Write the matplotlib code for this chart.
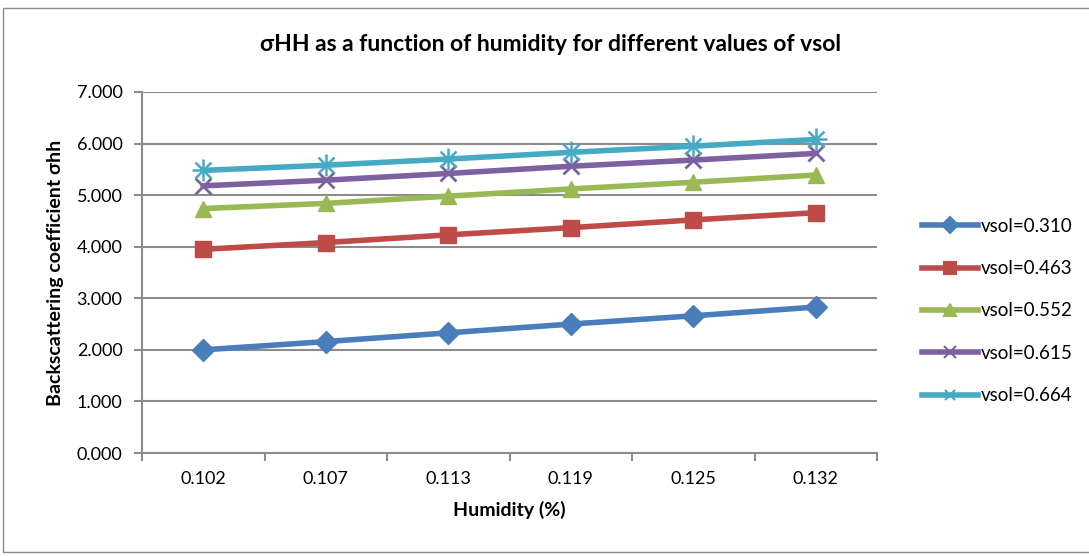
import matplotlib
matplotlib.use("Agg")
import matplotlib.pyplot as plt
from matplotlib.lines import Line2D
from matplotlib.patches import Rectangle

plt.rcParams['font.family'] = ['Lato', 'DejaVu Sans']

humidity = ["0.102", "0.107", "0.113", "0.119", "0.125", "0.132"]
s_310 = [2.00, 2.16, 2.33, 2.50, 2.66, 2.83]
s_463 = [3.95, 4.08, 4.23, 4.37, 4.52, 4.66]
s_552 = [4.74, 4.84, 4.98, 5.12, 5.25, 5.39]
s_615 = [5.18, 5.29, 5.42, 5.56, 5.68, 5.81]
s_664 = [5.48, 5.58, 5.70, 5.83, 5.95, 6.08]
labels = ["vsol=0.310", "vsol=0.463", "vsol=0.552", "vsol=0.615", "vsol=0.664"]
y_ticks = [0, 1, 2, 3, 4, 5, 6, 7]

series = [s_310, s_463, s_552, s_615, s_664]
colors = ["#4A7EBB", "#BE4B48", "#98B954", "#7D60A0", "#46AAC5"]
markers = ["D", "s", "^", "x", "*"]
msizes = [11, 12, 12, 11, 12]

fig = plt.figure(figsize=(10.89, 5.56), dpi=100)
fig.patches.append(Rectangle((3/1089, 4/556), 1.1, 544/556, transform=fig.transFigure,
                             fill=False, edgecolor="#8c8c8c", linewidth=1.0))
ax = fig.add_axes([142/1089, 1 - 453/556, (877-142)/1089, (453-92)/556])

x = list(range(len(humidity)))
for s, c, m, ms in zip(series, colors, markers, msizes):
    if m == "*":
        ax.plot(x, s, color=c, linewidth=4, zorder=3)
        ax.plot(x, s, linestyle="none", marker="x", color=c, markersize=ms, markeredgewidth=1.8, zorder=4)
        ax.plot(x, s, linestyle="none", marker="+", color=c, markersize=ms+4, markeredgewidth=1.8, zorder=4)
    elif m == "x":
        ax.plot(x, s, color=c, linewidth=4, marker=m, markersize=ms, markeredgewidth=2, zorder=3)
    else:
        ax.plot(x, s, color=c, linewidth=4, marker=m, markersize=ms, zorder=3)

ax.set_xlim(-0.5, len(humidity) - 0.5)
ax.set_ylim(0, 7)
ax.set_yticks(y_ticks)
ax.set_yticklabels([f"{v:.3f}" for v in y_ticks], fontsize=13)
ax.set_xticks(x)
ax.set_xticklabels(humidity, fontsize=13)
ax.tick_params(axis='x', length=0, pad=13)
ax.set_xticks([i - 0.5 for i in range(len(humidity) + 1)], minor=True)
ax.tick_params(axis='x', which='minor', length=6, color="#8c8c8c", width=1.5)
ax.tick_params(axis='y', length=6, color="#8c8c8c", width=1.5, pad=8)
ax.grid(axis='y', color="#8c8c8c", linewidth=1.5)
ax.set_axisbelow(True)
for sp in ["top", "right"]:
    ax.spines[sp].set_visible(False)
for sp in ["left", "bottom"]:
    ax.spines[sp].set_color("#8c8c8c")
    ax.spines[sp].set_linewidth(1.5)

ax.set_xlabel("Humidity (%)", fontsize=14, fontweight="bold", labelpad=10)
ax.set_ylabel("Backscattering coefficient σhh", fontsize=14, fontweight="bold", labelpad=9)
fig.text(551/1089, 1 - 45/556, "σHH as a function of humidity for different values of vsol",
         ha="center", va="center", fontsize=16.5, fontweight="bold")

handles = []
for c, m, ms in zip(colors, markers, msizes):
    if m == "*":
        handles.append(Line2D([], [], color=c, linewidth=4, marker="x", markersize=7, markeredgewidth=1.5))
    else:
        handles.append(Line2D([], [], color=c, linewidth=4, marker=m, markersize=8, markeredgewidth=1.5))
fig.legend(handles, labels, loc="center left", bbox_to_anchor=(905/1089, 1 - 311/556),
           frameon=False, fontsize=13.5, handlelength=3.0, labelspacing=1.35, handletextpad=0.15)

fig.savefig("out.png", dpi=100)
